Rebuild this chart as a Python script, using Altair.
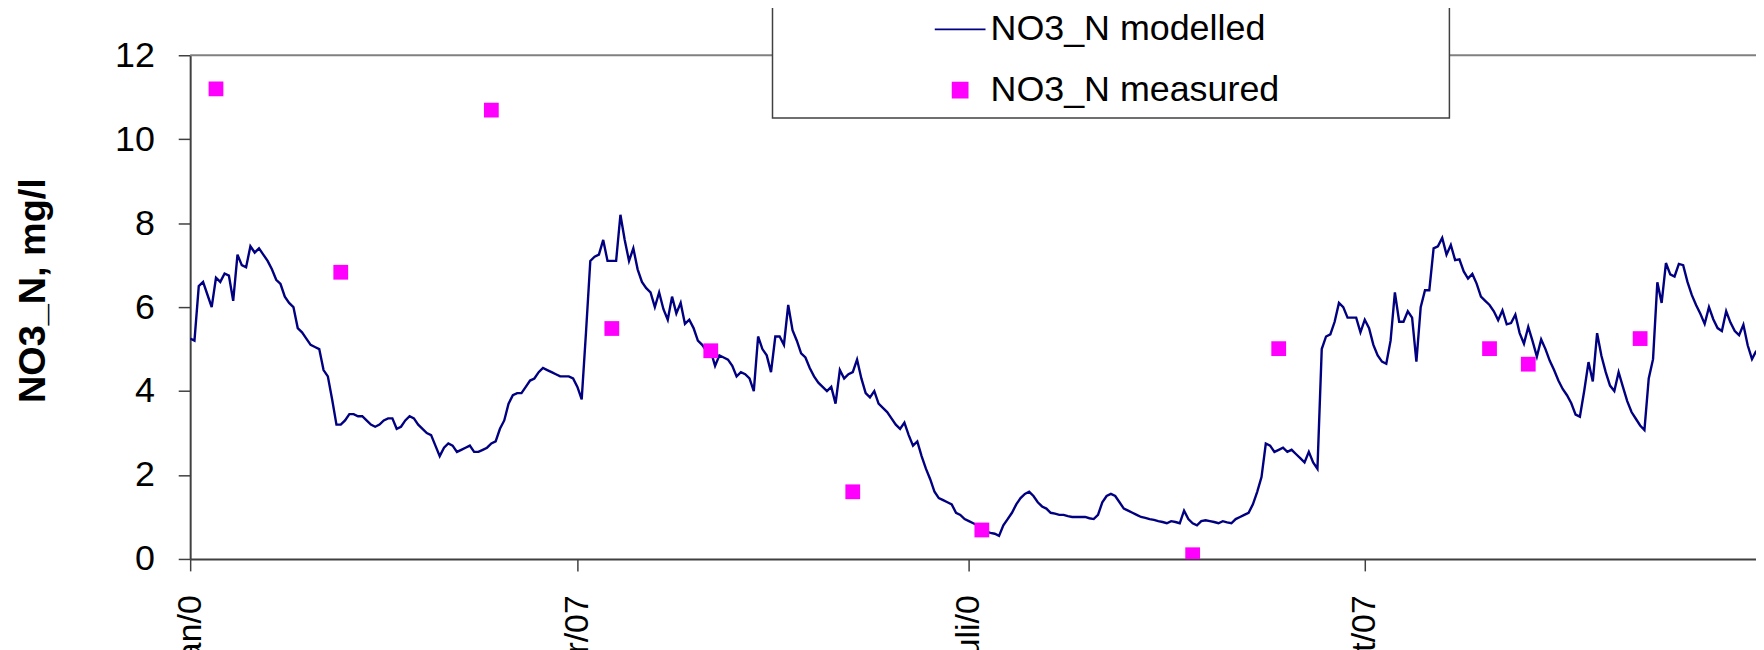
import pandas as pd
import altair as alt

# ---------------- data ----------------
START = "2007-01-01"

# daily modelled NO3_N (mg/l), one value per day from 1 Jan 2007
modelled = [
    5.25, 5.2, 6.5, 6.6, 6.3, 6.0, 6.7, 6.6, 6.8, 6.75,
    6.15, 7.25, 7.0, 6.95, 7.45, 7.3, 7.4, 7.25, 7.1, 6.9,
    6.65, 6.55, 6.25, 6.1, 6.0, 5.5, 5.4, 5.25, 5.1, 5.05,
    5.0, 4.5, 4.35, 3.8, 3.2, 3.2, 3.3, 3.45, 3.45, 3.4,
    3.4, 3.3, 3.2, 3.15, 3.2, 3.3, 3.35, 3.35, 3.1, 3.15,
    3.3, 3.4, 3.35, 3.2, 3.1, 3.0, 2.95, 2.7, 2.45, 2.65,
    2.75, 2.7, 2.55, 2.6, 2.65, 2.7, 2.55, 2.55, 2.6, 2.65,
    2.75, 2.8, 3.1, 3.3, 3.7, 3.9, 3.95, 3.95, 4.1, 4.25,
    4.3, 4.45, 4.55, 4.5, 4.45, 4.4, 4.35, 4.35, 4.35, 4.3,
    4.1, 3.8, 5.4, 7.1, 7.2, 7.25, 7.6, 7.1, 7.1, 7.1,
    8.2, 7.6, 7.1, 7.4, 6.9, 6.6, 6.45, 6.35, 6.0, 6.35,
    5.95, 5.7, 6.25, 5.85, 6.1, 5.6, 5.7, 5.5, 5.2, 5.1,
    4.95, 4.95, 4.6, 4.85, 4.8, 4.75, 4.6, 4.35, 4.45, 4.4,
    4.3, 4.0, 5.3, 5.0, 4.85, 4.45, 5.3, 5.3, 5.1, 6.05,
    5.45, 5.2, 4.9, 4.8, 4.55, 4.35, 4.2, 4.1, 4.0, 4.1,
    3.7, 4.5, 4.3, 4.4, 4.45, 4.75, 4.3, 3.95, 3.85, 4.0,
    3.7, 3.6, 3.5, 3.35, 3.2, 3.1, 3.25, 2.95, 2.7, 2.8,
    2.45, 2.15, 1.9, 1.6, 1.45, 1.4, 1.35, 1.3, 1.1, 1.05,
    0.95, 0.9, 0.85, 0.8, 0.7, 0.65, 0.62, 0.6, 0.55, 0.8,
    0.95, 1.1, 1.3, 1.45, 1.55, 1.6, 1.5, 1.35, 1.25, 1.2,
    1.1, 1.08, 1.05, 1.05, 1.02, 1.0, 1.0, 1.0, 1.0, 0.97,
    0.95, 1.05, 1.35, 1.5, 1.55, 1.5, 1.35, 1.2, 1.15, 1.1,
    1.05, 1.0, 0.98, 0.95, 0.93, 0.9, 0.88, 0.85, 0.9, 0.88,
    0.85, 1.15, 0.95, 0.85, 0.8, 0.9, 0.92, 0.9, 0.88, 0.85,
    0.9, 0.87, 0.85, 0.95, 1.0, 1.05, 1.1, 1.3, 1.6, 1.95,
    2.75, 2.7, 2.55, 2.6, 2.65, 2.55, 2.6, 2.5, 2.4, 2.3,
    2.55, 2.3, 2.15, 5.0, 5.3, 5.35, 5.65, 6.1, 6.0, 5.75,
    5.75, 5.75, 5.4, 5.7, 5.5, 5.1, 4.85, 4.7, 4.65, 5.2,
    6.35, 5.65, 5.65, 5.9, 5.75, 4.7, 6.0, 6.4, 6.4, 7.4,
    7.45, 7.65, 7.25, 7.48, 7.12, 7.14, 6.85, 6.68, 6.79, 6.56,
    6.25, 6.15, 6.05, 5.9, 5.69, 5.92, 5.59, 5.62, 5.82, 5.38,
    5.13, 5.53, 5.19, 4.82, 5.23, 5.0, 4.72, 4.5, 4.25, 4.05,
    3.9, 3.71, 3.44, 3.39, 4.0, 4.69, 4.23, 5.38, 4.84, 4.45,
    4.13, 4.0, 4.45, 4.1, 3.76, 3.5, 3.34, 3.18, 3.07, 4.3,
    4.76, 6.59, 6.10, 7.05, 6.78, 6.73, 7.03, 7.0, 6.6, 6.29,
    6.05, 5.84, 5.6, 6.0, 5.71, 5.5, 5.43, 5.9, 5.63, 5.43,
    5.33, 5.58, 5.09, 4.76, 4.96,
]

measured_dates = [
    "2007-01-07", "2007-02-05", "2007-03-12", "2007-04-09", "2007-05-02",
    "2007-06-04", "2007-07-04", "2007-08-22", "2007-09-11", "2007-10-30",
    "2007-11-08", "2007-12-04",
]
measured = [11.2, 6.83, 10.69, 5.49, 4.96, 1.6, 0.69, 0.1, 5.01, 5.01, 4.64, 5.25]

series_names = ["NO3_N modelled", "NO3_N measured"]
series_colors = ["#000080", "#FF00FF"]
series_shapes = ["stroke", "square"]
series_sizes = [2601, 220]

tick_dates = [(2007, 1, 1), (2007, 4, 1), (2007, 7, 1), (2007, 10, 1)]
tick_labels = ["Jan/0", "Apr/07", "Juli/0", "Okt/07"]
y_ticks = [0, 2, 4, 6, 8, 10, 12]
y_top = [12]
# visible span of the time axis (the picture is cut at its right edge)
x_start = alt.DateTime(year=2007, month=1, date=1)
x_end = alt.DateTime(year=2007, month=12, date=30, hours=22, minutes=19)

FONT = "Liberation Sans"

# ---------------- tables ----------------
line_df = pd.DataFrame({
    "date": pd.date_range(START, periods=len(modelled), freq="D"),
    "value": modelled,
    "series": series_names[0],
})
pts_df = pd.DataFrame({
    "date": pd.to_datetime(measured_dates),
    "value": measured,
    "series": series_names[1],
})
top_df = pd.DataFrame({"value": y_top})

label_array = "[" + ",".join("'" + t + "'" for t in tick_labels) + "]"

x_enc = alt.X(
    "date:T",
    scale=alt.Scale(domain=[x_start, x_end]),
    axis=alt.Axis(
        title=None,
        values=[alt.DateTime(year=y, month=m, date=d) for y, m, d in tick_dates],
        labelExpr=label_array + "[floor(month(datum.value) / 3)]",
        labelAngle=270,
        labelFont=FONT,
        labelFontSize=34,
        labelColor="black",
        labelPadding=24,
        labelOverlap=False,
        labelFlush=False,
        labelBound=False,
        tickSize=12,
        tickColor="#404040",
        tickWidth=1.5,
        domainColor="#404040",
        domainWidth=2,
        grid=False,
    ),
)

y_enc = alt.Y(
    "value:Q",
    scale=alt.Scale(domain=[0, 12], nice=False, zero=True),
    axis=alt.Axis(
        title="NO3_N, mg/l",
        values=y_ticks,
        format="d",
        labelFont=FONT,
        labelFontSize=36,
        labelColor="black",
        labelPadding=24,
        tickSize=12,
        tickColor="#404040",
        tickWidth=1.5,
        domainColor="#404040",
        domainWidth=2,
        grid=False,
        titleFont=FONT,
        titleFontSize=38,
        titleFontWeight="bold",
        titleColor="black",
        titleAngle=270,
        titleAlign="center",
        titleBaseline="alphabetic",
        titleX=-146,
        titleY=236,
    ),
)

# blank room after each label (kept by a zero-width end mark) widens the
# legend frame the way the original centred legend box is drawn
legend_tail = " " * 16 + "\u200b"

legend = alt.Legend(
    title=None,
    orient="none",
    legendX=585,
    legendY=-54,
    direction="vertical",
    fillColor="white",
    strokeColor="#404040",
    padding=10,
    rowPadding=25,
    clipHeight=36,
    symbolStrokeWidth=2,
    symbolOpacity=1,
    symbolOffset=152,
    labelOffset=4,
    labelFont=FONT,
    labelFontSize=36,
    labelColor="black",
    labelLimit=0,
    labelExpr="datum.label + '" + legend_tail + "'",
)

color_enc = alt.Color(
    "series:N",
    scale=alt.Scale(domain=series_names, range=series_colors),
    legend=legend,
)
shape_enc = alt.Shape(
    "series:N",
    scale=alt.Scale(domain=series_names, range=series_shapes),
    legend=legend,
)
size_enc = alt.Size(
    "series:N",
    scale=alt.Scale(type="ordinal", domain=series_names, range=series_sizes),
    legend=legend,
)

top_rule = alt.Chart(top_df).mark_rule(color="#808080", strokeWidth=2).encode(
    y=alt.Y("value:Q", scale=alt.Scale(domain=[0, 12], nice=False))
)

line = alt.Chart(line_df).mark_line(strokeWidth=2.4, clip=True).encode(
    x=x_enc, y=y_enc, color=color_enc
)

points = alt.Chart(pts_df).mark_point(filled=True, opacity=1, clip=True).encode(
    x=x_enc, y=y_enc, color=color_enc, shape=shape_enc, size=size_enc
)

chart = alt.layer(top_rule, line, points).properties(
    width=1573,
    height=506,
    padding={"left": 183, "top": 46, "right": 0, "bottom": 90},
    autosize=alt.AutoSizeParams(type="none"),
    background="white",
).configure_view(stroke=None).configure_legend(strokeWidth=1.5)

chart.save("out.html", embed_options={"renderer": "svg", "actions": False})
